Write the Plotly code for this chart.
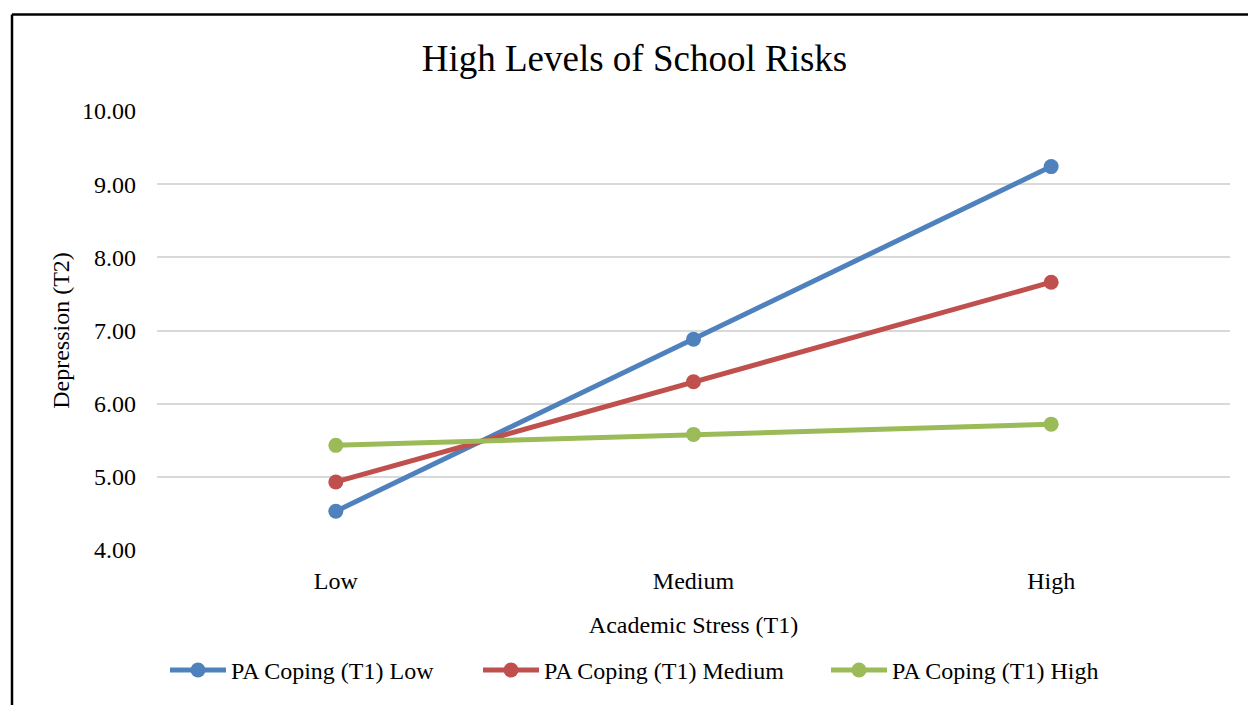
import plotly.graph_objects as go

categories = ["Low", "Medium", "High"]
series_names = ["PA Coping (T1) Low", "PA Coping (T1) Medium", "PA Coping (T1) High"]
low_vals = [4.53, 6.88, 9.24]
med_vals = [4.93, 6.30, 7.66]
high_vals = [5.43, 5.58, 5.72]
y_ticks = [4, 5, 6, 7, 8, 9, 10]
y_tick_labels = ["4.00", "5.00", "6.00", "7.00", "8.00", "9.00", "10.00"]

colors = ["#4F81BD", "#C0504D", "#9BBB59"]
FONT = "Liberation Serif, Times New Roman, serif"

W, H = 1248, 705
ml, mr, mt, mb = 157, 18, 111, 153
pw, ph = W - ml - mr, H - mt - mb


def px_to_paper_x(px):
    return (px - ml) / pw


def px_to_paper_y(py):
    return (H - mb - py) / ph


legend_ids = ["legend", "legend2", "legend3"]
legend_starts = [172, 485, 833]  # left pixel of each legend symbol

fig = go.Figure()
for name, vals, c, lid in zip(series_names, [low_vals, med_vals, high_vals], colors, legend_ids):
    fig.add_trace(go.Scatter(
        x=[0, 1, 2], y=vals, name=name, mode="lines+markers",
        line=dict(color=c, width=5),
        marker=dict(color=c, size=15),
        legend=lid,
    ))

# chart border (top and left edges visible)
fig.add_shape(type="line", xref="paper", yref="paper",
              x0=px_to_paper_x(12), x1=px_to_paper_x(12),
              y0=px_to_paper_y(720), y1=px_to_paper_y(14),
              line=dict(color="black", width=2.5))
fig.add_shape(type="line", xref="paper", yref="paper",
              x0=px_to_paper_x(12), x1=px_to_paper_x(1260),
              y0=px_to_paper_y(14), y1=px_to_paper_y(14),
              line=dict(color="black", width=2.5))

legend_offset = 7  # approx padding between legend box edge and symbol start
legend_common = dict(orientation="h", xanchor="left", yanchor="middle",
                     y=px_to_paper_y(673), font=dict(size=24), itemwidth=56,
                     bgcolor="rgba(0,0,0,0)")

fig.update_layout(
    width=W, height=H,
    margin=dict(l=ml, r=mr, t=mt, b=mb),
    paper_bgcolor="white", plot_bgcolor="white",
    font=dict(family=FONT, color="black"),
    title=dict(text="High Levels of School Risks", x=(420 + 849) / 2 / W, xanchor="center",
               y=1 - 58 / H, yanchor="middle", font=dict(size=37, family=FONT)),
    xaxis=dict(
        range=[-0.5, 2.5], tickvals=[0, 1, 2], ticktext=categories,
        showgrid=False, zeroline=False, showline=False, ticks="",
        tickfont=dict(size=24), ticklabelstandoff=14,
        title=dict(text="Academic Stress (T1)", font=dict(size=24), standoff=23),
    ),
    yaxis=dict(
        range=[4, 10], tickvals=y_ticks, ticktext=y_tick_labels,
        showgrid=True, gridcolor="#D9D9D9", gridwidth=1.5, zeroline=False,
        showline=False, ticks="", tickfont=dict(size=24), ticklabelstandoff=20,
        title=dict(text="Depression (T2)", font=dict(size=24), standoff=5),
    ),
    legend=dict(x=px_to_paper_x(legend_starts[0] - legend_offset), **legend_common),
    legend2=dict(x=px_to_paper_x(legend_starts[1] - legend_offset), **legend_common),
    legend3=dict(x=px_to_paper_x(legend_starts[2] - legend_offset), **legend_common),
    showlegend=True,
)

fig.write_html("out.html", config={"displayModeBar": False},
               post_script="document.body.style.margin='0';document.body.style.overflow='hidden';")
